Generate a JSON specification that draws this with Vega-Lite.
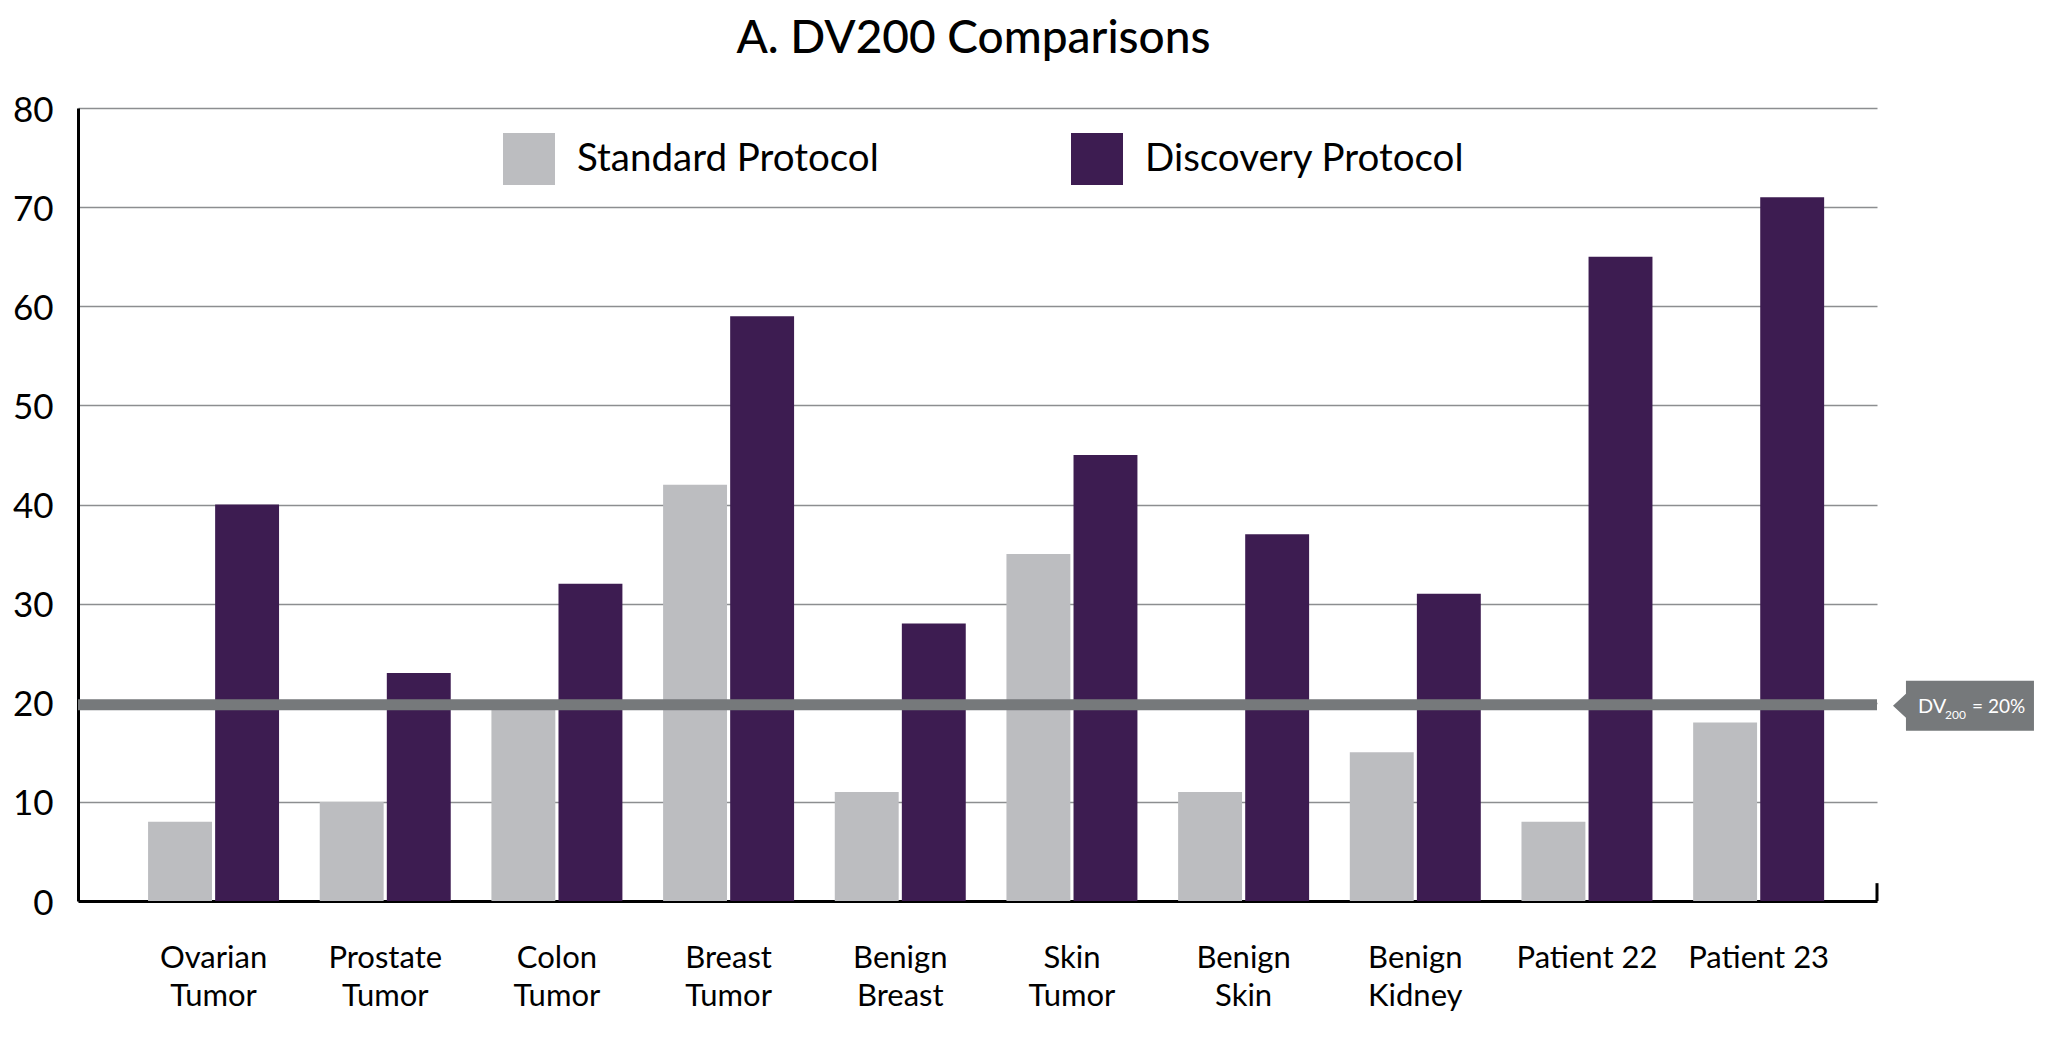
{
  "$schema": "https://vega.github.io/schema/vega-lite/v6.json",
  "width": 1799,
  "height": 793,
  "autosize": {"type": "none"},
  "padding": {"left": 78, "top": 108, "right": 171, "bottom": 136},
  "title": {
    "text": "A. DV200 Comparisons",
    "font": "Lato",
    "fontSize": 46,
    "fontWeight": 500,
    "color": "#000000",
    "anchor": "middle",
    "dx": -4,
    "offset": 30
  },
  "datasets": {
    "dv200": [
      {"sample": "Ovarian Tumor", "protocol": "Standard Protocol", "dv200": 8},
      {"sample": "Ovarian Tumor", "protocol": "Discovery Protocol", "dv200": 40},
      {"sample": "Prostate Tumor", "protocol": "Standard Protocol", "dv200": 10},
      {"sample": "Prostate Tumor", "protocol": "Discovery Protocol", "dv200": 23},
      {"sample": "Colon Tumor", "protocol": "Standard Protocol", "dv200": 20},
      {"sample": "Colon Tumor", "protocol": "Discovery Protocol", "dv200": 32},
      {"sample": "Breast Tumor", "protocol": "Standard Protocol", "dv200": 42},
      {"sample": "Breast Tumor", "protocol": "Discovery Protocol", "dv200": 59},
      {"sample": "Benign Breast", "protocol": "Standard Protocol", "dv200": 11},
      {"sample": "Benign Breast", "protocol": "Discovery Protocol", "dv200": 28},
      {"sample": "Skin Tumor", "protocol": "Standard Protocol", "dv200": 35},
      {"sample": "Skin Tumor", "protocol": "Discovery Protocol", "dv200": 45},
      {"sample": "Benign Skin", "protocol": "Standard Protocol", "dv200": 11},
      {"sample": "Benign Skin", "protocol": "Discovery Protocol", "dv200": 37},
      {"sample": "Benign Kidney", "protocol": "Standard Protocol", "dv200": 15},
      {"sample": "Benign Kidney", "protocol": "Discovery Protocol", "dv200": 31},
      {"sample": "Patient 22", "protocol": "Standard Protocol", "dv200": 8},
      {"sample": "Patient 22", "protocol": "Discovery Protocol", "dv200": 65},
      {"sample": "Patient 23", "protocol": "Standard Protocol", "dv200": 18},
      {"sample": "Patient 23", "protocol": "Discovery Protocol", "dv200": 71}
    ],
    "threshold": [
      {"threshold": 20, "label": "DV", "sub": "200", "rest": "= 20%", "tick": 0, "tickEnd": 1.8}
    ]
  },
  "layer": [
    {
      "data": {"name": "dv200"},
      "mark": {"type": "bar"},
      "encoding": {
        "x": {
          "field": "sample",
          "type": "nominal",
          "sort": null,
          "title": null,
          "scale": {"paddingInner": 0.237, "paddingOuter": 0.358, "align": 0.57},
          "axis": {
            "labelAngle": 0,
            "labelExpr": "indexof(datum.label, 'Patient') == 0 ? datum.label : split(datum.label, ' ')",
            "labelFontSize": 31,
            "labelLineHeight": 38,
            "labelPadding": 42,
            "labelBaseline": "top",
            "ticks": false
          }
        },
        "xOffset": {
          "field": "protocol",
          "type": "nominal",
          "sort": ["Standard Protocol", "Discovery Protocol"],
          "scale": {"paddingInner": 0.047, "paddingOuter": 0}
        },
        "y": {
          "field": "dv200",
          "type": "quantitative",
          "title": null,
          "scale": {"domain": [0, 80], "nice": false},
          "axis": {
            "values": [0, 10, 20, 30, 40, 50, 60, 70, 80],
            "labelFontSize": 35,
            "labelPadding": 25,
            "labelOffset": 2,
            "ticks": false,
            "grid": true,
            "gridColor": "#8c8e90",
            "gridWidth": 1.5
          }
        },
        "color": {
          "field": "protocol",
          "type": "nominal",
          "sort": ["Standard Protocol", "Discovery Protocol"],
          "scale": {
            "domain": ["Standard Protocol", "Discovery Protocol"],
            "range": ["#bcbdc0", "#3d1c51"]
          },
          "legend": {
            "orient": "none",
            "legendX": 425,
            "legendY": 25,
            "direction": "horizontal",
            "title": null,
            "padding": 0,
            "symbolType": "square",
            "symbolSize": 2704,
            "symbolStrokeWidth": 0,
            "symbolOpacity": 1,
            "labelFont": "Lato",
            "labelFontSize": 38.5,
            "labelColor": "#000000",
            "labelOffset": 22,
            "labelLimit": 600,
            "columnPadding": 192
          }
        }
      }
    },
    {
      "data": {"name": "threshold"},
      "mark": {"type": "rule", "strokeWidth": 11, "color": "#76797b", "yOffset": 2},
      "encoding": {
        "y": {"field": "threshold", "type": "quantitative"}
      }
    },
    {
      "data": {"name": "threshold"},
      "mark": {
        "type": "point",
        "shape": "M0.1,0L0.181,-0.075L0.181,-0.156L0.981,-0.156L0.981,0.156L0.181,0.156L0.181,0.075Z",
        "size": 102400,
        "filled": true,
        "opacity": 1,
        "color": "#76797b",
        "strokeWidth": 0,
        "yOffset": 3,
        "clip": false
      },
      "encoding": {
        "x": {"value": "width"},
        "y": {"field": "threshold", "type": "quantitative"}
      }
    },
    {
      "data": {"name": "threshold"},
      "mark": {"type": "text", "align": "left", "baseline": "alphabetic", "font": "Lato", "fontSize": 20, "color": "#ffffff", "dx": 41, "dy": 10},
      "encoding": {
        "x": {"value": "width"},
        "y": {"field": "threshold", "type": "quantitative"},
        "text": {"field": "label"}
      }
    },
    {
      "data": {"name": "threshold"},
      "mark": {"type": "text", "align": "left", "baseline": "alphabetic", "font": "Lato", "fontSize": 12, "color": "#ffffff", "dx": 68, "dy": 16},
      "encoding": {
        "x": {"value": "width"},
        "y": {"field": "threshold", "type": "quantitative"},
        "text": {"field": "sub"}
      }
    },
    {
      "data": {"name": "threshold"},
      "mark": {"type": "text", "align": "left", "baseline": "alphabetic", "font": "Lato", "fontSize": 19, "color": "#ffffff", "dx": 95, "dy": 10},
      "encoding": {
        "x": {"value": "width"},
        "y": {"field": "threshold", "type": "quantitative"},
        "text": {"field": "rest"}
      }
    },
    {
      "data": {"name": "threshold"},
      "mark": {"type": "rule", "color": "#000000", "strokeWidth": 3},
      "encoding": {
        "x": {"value": "width"},
        "y": {"field": "tick", "type": "quantitative"},
        "y2": {"field": "tickEnd"}
      }
    }
  ],
  "config": {
    "view": {"stroke": null},
    "font": "Lato",
    "axis": {
      "labelFont": "Lato",
      "labelColor": "#000000",
      "domainColor": "#000000",
      "domainWidth": 3
    }
  }
}
